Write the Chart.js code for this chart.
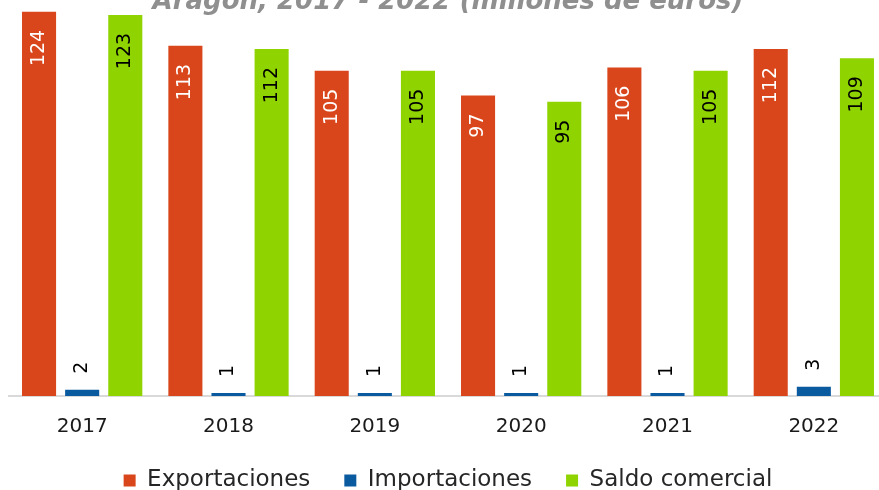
<!DOCTYPE html>
<html>
<head>
<meta charset="utf-8">
<script src="https://cdn.jsdelivr.net/npm/chart.js@4.4.1/dist/chart.umd.min.js"></script>
<style>
html, body { margin: 0; padding: 0; background: #fff; overflow: hidden; width: 879px; height: 490px; }
#wrap { position: absolute; left: 0; top: -40px; width: 890px; height: 542px; }
</style>
</head>
<body>
<div id="wrap"><canvas id="myChart"></canvas></div>
<script>
// Datos
const anios = ['2017', '2018', '2019', '2020', '2021', '2022'];
const exportaciones = [124, 113, 105, 97, 106, 112];
const importaciones = [2, 1, 1, 1, 1, 3];
const saldoComercial = [123, 112, 105, 95, 105, 109];

const fuente = '"DejaVu Sans", sans-serif';

// Etiquetas de valor giradas dentro / encima de cada barra
const etiquetasPlugin = {
    id: 'etiquetas',
    afterDatasetsDraw(chart) {
        const ctx = chart.ctx;
        chart.data.datasets.forEach((ds, i) => {
            const meta = chart.getDatasetMeta(i);
            meta.data.forEach((bar, j) => {
                ctx.save();
                ctx.translate(bar.x, bar.y);
                ctx.rotate(-Math.PI / 2);
                ctx.font = '19px ' + fuente;
                ctx.textBaseline = 'middle';
                if (i === 1) {
                    ctx.textAlign = 'left';
                    ctx.fillStyle = '#000';
                    ctx.fillText(ds.data[j], 16, 0);
                } else {
                    ctx.textAlign = 'right';
                    ctx.fillStyle = i === 0 ? '#fff' : '#000';
                    ctx.fillText(ds.data[j], -18, 0);
                }
                ctx.restore();
            });
        });
    }
};

const ctx = document.getElementById('myChart').getContext('2d');
const myChart = new Chart(ctx, {
    type: 'bar',
    data: {
        labels: anios,
        datasets: [
            { label: 'Exportaciones', data: exportaciones, backgroundColor: '#D9461B' },
            { label: 'Importaciones', data: importaciones, backgroundColor: '#0A5AA0' },
            { label: 'Saldo comercial', data: saldoComercial, backgroundColor: '#8FD400' }
        ]
    },
    options: {
        responsive: true,
        maintainAspectRatio: false,
        animation: false,
        categoryPercentage: 0.884,
        barPercentage: 0.79,
        layout: { padding: { left: 9, right: 3, top: 0, bottom: 0 } },
        plugins: {
            title: {
                display: true,
                text: 'Aragón, 2017 - 2022 (millones de euros)',
                color: '#8f8f8f',
                font: { family: fuente, size: 26, weight: 'bold', style: 'italic' },
                padding: { top: 27, bottom: -25 }
            },
            legend: {
                position: 'bottom',
                labels: {
                    boxWidth: 12,
                    boxHeight: 12,
                    padding: 34,
                    color: '#262626',
                    font: { family: fuente, size: 23 }
                }
            },
            tooltip: { enabled: false }
        },
        scales: {
            x: {
                grid: { display: false, drawTicks: false },
                border: { display: true, color: '#d9d9d9', width: 2 },
                ticks: { color: '#1a1a1a', padding: 19, font: { family: fuente, size: 20 } },
                afterFit: (scale) => { scale.height -= 23; }
            },
            y: { display: false, min: 0, max: 130 }
        }
    },
    plugins: [etiquetasPlugin]
});
</script>
</body>
</html>
